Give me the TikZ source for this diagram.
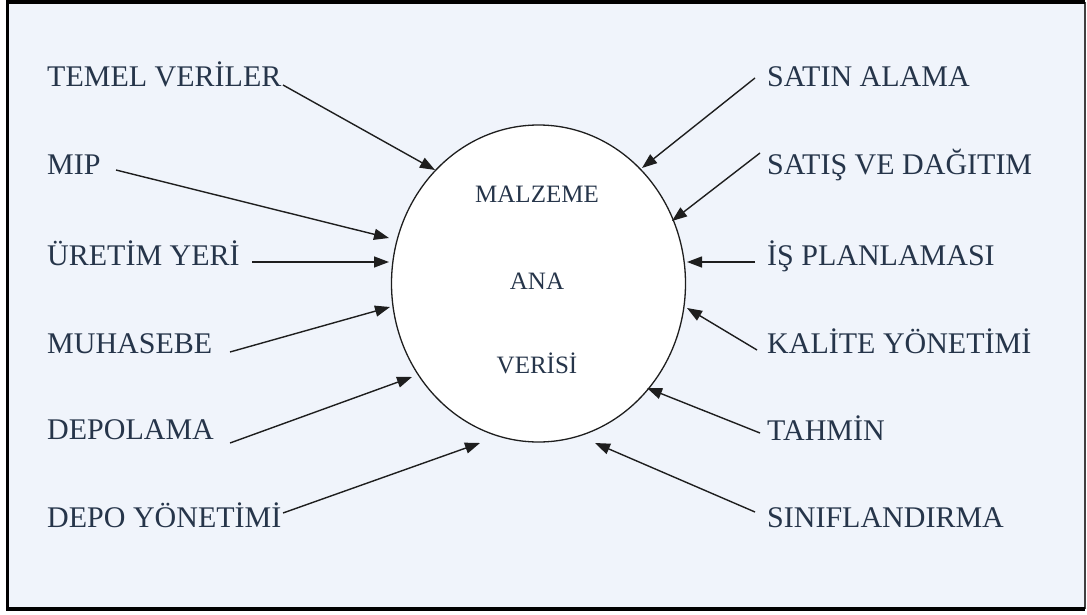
\documentclass[tikz,border=0pt]{standalone}
\usepackage{fontspec}
\setmainfont{Liberation Serif}
\usetikzlibrary{shapes.geometric,arrows.meta}
\definecolor{panel}{HTML}{F0F4FB}
\definecolor{ink}{HTML}{26354A}
\definecolor{wire}{HTML}{1E1E1E}
\tikzset{
  lbl/.style={text=ink, inner sep=0pt, font=\fontsize{30}{36}\selectfont},
  lblL/.style={lbl, anchor=base west},
  lblR/.style={lbl, anchor=base west},
  core/.style={text=ink, inner sep=0pt, anchor=base, font=\fontsize{25}{30}\selectfont},
  feed/.style={draw=wire, line width=1.4pt, -{Triangle[length=15pt,width=11pt]}},
}
\begin{document}
\begin{tikzpicture}[x=1pt,y=-1pt]
\useasboundingbox (0,0) rectangle (1087,615);
% panel with a heavy frame on three sides and a lighter one on the right
\fill[panel] (7.5,2) rectangle (1084.5,609);
\draw[line width=2pt, draw=black!75] (1084.5,2) -- (1084.5,609);
\draw[line width=3.5pt, line join=miter] (1084.5,2) -- (7.5,2) -- (7.5,609) -- (1084.5,609);

% central ellipse
\node (ell) [ellipse, draw=wire, line width=1.3pt, fill=white, inner sep=0pt,
  minimum width=294pt, minimum height=317pt] at (538.5,283.5) {};
\node (c1) [core] at (537,202) {MALZEME};
\node (c2) [core] at (537,289) {ANA};
\node (c3) [core] at (537,373) {VERİSİ};

% left-hand labels
\node (l1) [lblL] at (47,87) {TEMEL VERİLER};
\node (l2) [lblL] at (47,175) {MIP};
\node (l3) [lblL] at (47,265) {ÜRETİM YERİ};
\node (l4) [lblL] at (47,353) {MUHASEBE};
\node (l5) [lblL] at (47,439) {DEPOLAMA};
\node (l6) [lblL] at (47,527) {DEPO YÖNETİMİ};

% right-hand labels
\node (r1) [lblR] at (767,87) {SATIN ALAMA};
\node (r2) [lblR] at (767,175) {SATIŞ VE DAĞITIM};
\node (r3) [lblR] at (767,265) {İŞ PLANLAMASI};
\node (r4) [lblR] at (767,353) {KALİTE YÖNETİMİ};
\node (r5) [lblR] at (767,440) {TAHMİN};
\node (r6) [lblR] at (767,527) {SINIFLANDIRMA};

% connector start points beside the labels
\coordinate (l1o) at (283,85);
\coordinate (l2o) at (116,170);
\coordinate (l3o) at (252,262);
\coordinate (l4o) at (230,352);
\coordinate (l5o) at (230,443);
\coordinate (l6o) at (283,513);
\coordinate (r1o) at (755,78);
\coordinate (r2o) at (760,153);
\coordinate (r3o) at (755,262);
\coordinate (r4o) at (757,350);
\coordinate (r5o) at (760,433);
\coordinate (r6o) at (755,512);

% arrow tips at the ellipse
\coordinate (l1t) at (435,170);
\coordinate (l2t) at (389,238);
\coordinate (l3t) at (389,262);
\coordinate (l4t) at (390,307);
\coordinate (l5t) at (412,377);
\coordinate (l6t) at (480,443);
\coordinate (r1t) at (642,168);
\coordinate (r2t) at (672,221);
\coordinate (r3t) at (687,262);
\coordinate (r4t) at (687,308);
\coordinate (r5t) at (647,388);
\coordinate (r6t) at (595,443);

\foreach \s in {l,r}{
  \foreach \i in {1,...,6}{
    \draw[feed] (\s\i o) -- (\s\i t);
  }
}
\end{tikzpicture}
\end{document}
